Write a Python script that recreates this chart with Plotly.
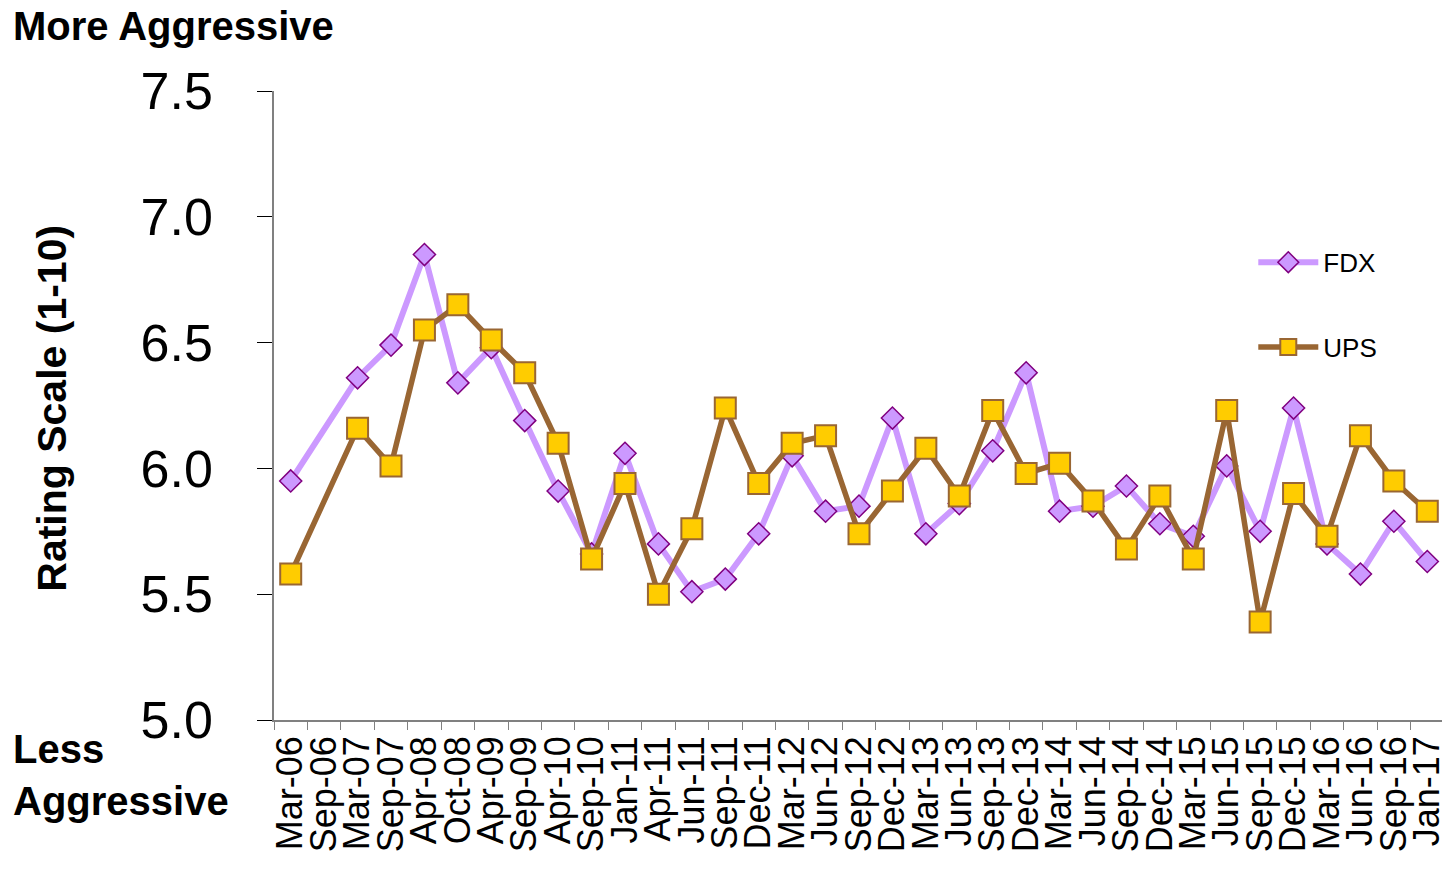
import plotly.graph_objects as go

categories = ["Mar-06", "Sep-06", "Mar-07", "Sep-07", "Apr-08", "Oct-08", "Apr-09", "Sep-09",
              "Apr-10", "Sep-10", "Jan-11", "Apr-11", "Jun-11", "Sep-11", "Dec-11", "Mar-12",
              "Jun-12", "Sep-12", "Dec-12", "Mar-13", "Jun-13", "Sep-13", "Dec-13", "Mar-14",
              "Jun-14", "Sep-14", "Dec-14", "Mar-15", "Jun-15", "Sep-15", "Dec-15", "Mar-16",
              "Jun-16", "Sep-16", "Jan-17"]

fdx = [5.95, None, 6.36, 6.49, 6.85, 6.34, 6.48, 6.19, 5.91, 5.66, 6.06, 5.70, 5.51, 5.56,
       5.74, 6.05, 5.83, 5.85, 6.20, 5.74, 5.86, 6.07, 6.38, 5.83, 5.85, 5.93, 5.78, 5.73,
       6.01, 5.75, 6.24, 5.70, 5.58, 5.79, 5.63]

ups = [5.58, None, 6.16, 6.01, 6.55, 6.65, 6.51, 6.38, 6.10, 5.64, 5.94, 5.50, 5.76, 6.24,
       5.94, 6.10, 6.13, 5.74, 5.91, 6.08, 5.89, 6.23, 5.98, 6.02, 5.87, 5.68, 5.89, 5.64,
       6.23, 5.39, 5.90, 5.73, 6.13, 5.95, 5.83]

y_ticks = [5.0, 5.5, 6.0, 6.5, 7.0, 7.5]

FONT = "Liberation Sans, Arial, sans-serif"

fig = go.Figure()
fig.add_trace(go.Scatter(
    x=categories, y=fdx, name="FDX", mode="lines+markers", connectgaps=True,
    legendgroup="fdx",
    line=dict(color="#CC99FF", width=6),
    marker=dict(symbol="diamond", size=17, color="#CC99FF",
                line=dict(color="#800080", width=1.5)),
))
fig.add_trace(go.Scatter(
    x=categories, y=ups, name="UPS", mode="lines+markers", connectgaps=True,
    legendgroup="ups",
    line=dict(color="#996633", width=5.5),
    marker=dict(symbol="square", size=21, color="#FFCC00",
                line=dict(color="#996633", width=2)),
))

fig.update_layout(
    width=1442, height=866,
    margin=dict(l=266, r=3, t=83, b=154),
    paper_bgcolor="white", plot_bgcolor="white",
    font=dict(family=FONT, color="black"),
    showlegend=True,
    legend=dict(
        x=0.837, y=0.765, xanchor="left", yanchor="top",
        font=dict(size=26, family=FONT, color="black"),
        traceorder="grouped", tracegroupgap=48, itemwidth=60,
        bgcolor="rgba(0,0,0,0)",
    ),
    xaxis=dict(
        type="category", categoryorder="array", categoryarray=categories,
        range=[-0.5, len(categories) - 0.5],
        tickmode="linear", tick0=0, dtick=1,
        showline=True, linecolor="#808080", linewidth=1.5,
        ticks="outside", ticklen=8, tickcolor="#808080", tickwidth=1,
        tickson="boundaries",
        tickangle=-90, tickfont=dict(size=36, family=FONT, color="black"),
        showgrid=False, zeroline=False, fixedrange=True,
    ),
    yaxis=dict(
        range=[5.0, 7.5], tickvals=y_ticks, ticktext=[f"{v:.1f}" for v in y_ticks],
        showline=True, linecolor="#808080", linewidth=1.5,
        ticks="outside", ticklen=15, tickcolor="black", tickwidth=1,
        tickfont=dict(size=52, family=FONT, color="black"),
        ticklabelstandoff=34,
        showgrid=False, zeroline=False, fixedrange=True,
    ),
    annotations=[
        dict(text="<b>More Aggressive</b>", xref="paper", yref="paper",
             x=-0.2245, y=1.103, xanchor="left", yanchor="middle", showarrow=False,
             font=dict(size=40, family=FONT, color="black")),
        dict(text="<b>Less<br>Aggressive</b>", xref="paper", yref="paper",
             x=-0.2245, y=-0.088, xanchor="left", yanchor="middle", showarrow=False,
             align="left", font=dict(size=40, family=FONT, color="black")),
        dict(text="<b>Rating Scale (1-10)</b>", xref="paper", yref="paper",
             x=-0.19, y=0.496, xanchor="center", yanchor="middle", showarrow=False,
             textangle=-90, font=dict(size=41, family=FONT, color="black")),
        dict(text="<b>6M Months</b>", xref="paper", yref="paper",
             x=0.406, y=1.145, xanchor="center", yanchor="bottom", showarrow=False,
             font=dict(size=32, family=FONT, color="#203E8C")),
    ],
)

fig.write_html("out.html")
